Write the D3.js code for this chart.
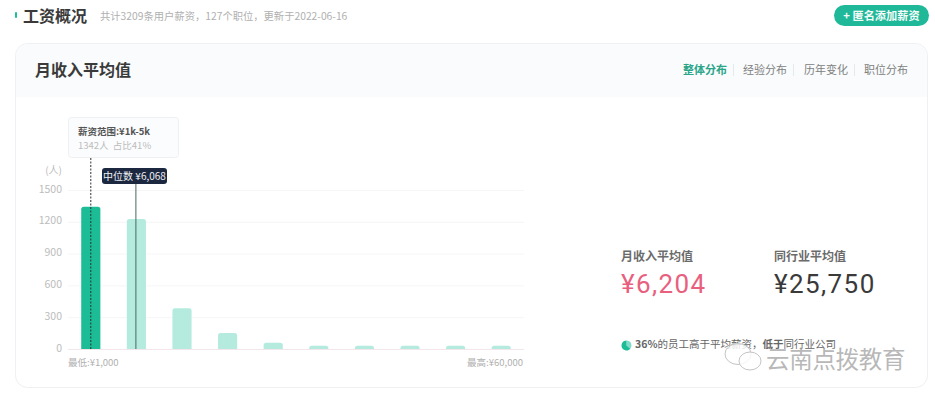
<!DOCTYPE html>
<html><head><meta charset="utf-8">
<script src="https://cdn.jsdelivr.net/npm/d3@7"></script>
<style>html,body{margin:0;padding:0;background:#fff}svg{display:block}text{font-family:"Noto Sans CJK SC","Noto Sans",sans-serif}</style>
</head><body><div id="c"></div>
<script>
const bins=["1k-5k","5k-10k","10k-15k","15k-20k","20k-25k","25k-30k","30k-35k","35k-40k","40k-50k","50k-60k"];
const counts=[1342,1226,385,150,60,30,30,30,30,30];
const yTicks=[0,300,600,900,1200,1500];
const tabs=["整体分布","经验分布","历年变化","职位分布"];
const medianBin="5k-10k";
const abovePct=[36,64];
const W=935,H=400;
const svg=d3.select("#c").append("svg").attr("width",W).attr("height",H);
const defs=svg.append("defs");
const T=(x,y,s,size,fill,weight,anchor)=>svg.append("text").attr("x",x).attr("y",y).text(s).attr("font-size",size).attr("fill",fill).attr("font-weight",weight||400).attr("text-anchor",anchor||"start");

// page header
svg.append("rect").attr("x",15).attr("y",12).attr("width",2).attr("height",6).attr("rx",1).attr("fill","#1dbd9b");
T(23,22,"工资概况",16,"#3a3a3a",700);
T(100,20,"共计3209条用户薪资，127个职位，更新于2022-06-16",10.3,"#b0b0b0");
svg.append("rect").attr("x",834).attr("y",5).attr("width",95).attr("height",21).attr("rx",10.5).attr("fill","#1fb898");
T(881.5,19.5,"+ 匿名添加薪资",11.2,"#f4fbf9",700,"middle");

// card
svg.append("rect").attr("x",15.5).attr("y",43.5).attr("width",912).attr("height",344).attr("rx",12).attr("fill","#fff").attr("stroke","#eef0f1");
defs.append("clipPath").attr("id","hd").append("rect").attr("x",16).attr("y",44).attr("width",911).attr("height",53);
svg.append("rect").attr("x",16).attr("y",44).attr("width",911).attr("height",70).attr("rx",12).attr("fill","#f9fbfc").attr("clip-path","url(#hd)");
T(35,76,"月收入平均值",16,"#3a3a3a",700);
const tabX=[683,743,804,864];
tabs.forEach((t,i)=>{
  T(tabX[i],74,t,11,i==0?"#2aa589":"#808080",i==0?700:400);
  if(i<3) svg.append("line").attr("x1",tabX[i]+50.5).attr("x2",tabX[i]+50.5).attr("y1",64).attr("y2",76).attr("stroke","#e6e9eb");
});

// chart
const x=d3.scaleBand().domain(bins).range([68,524]).paddingInner(0.58).paddingOuter(0.29);
const y=d3.scaleLinear().domain([0,1500]).range([349,190]);
const g=svg.append("g");
g.selectAll("line.g").data(yTicks).join("line").attr("class","g")
 .attr("x1",68).attr("x2",524).attr("y1",d=>y(d)+.5).attr("y2",d=>y(d)+.5)
 .attr("stroke",d=>d==0?"#f3e6ea":"#f5f6f6");
const yAxis=d3.axisLeft(y).tickValues(yTicks).tickSize(0).tickPadding(0).tickFormat(d3.format("d"));
const ya=svg.append("g").attr("transform","translate(62,0)").call(yAxis);
ya.select(".domain").remove();
ya.selectAll("text").attr("font-size",10.5).attr("fill","#bcbcbc").attr("dy","0.2em").attr("font-family","Roboto,sans-serif");
T(62,174,"(人)",10,"#bcbcbc",400,"end");

const bw=x.bandwidth();
const rr=(d)=>{const X=x(d.b),Y=y(d.v),h=y(0)-Y,r=Math.min(2.5,h);return `M${X},${y(0)}V${Y+r}Q${X},${Y} ${X+r},${Y}H${X+bw-r}Q${X+bw},${Y} ${X+bw},${Y+r}V${y(0)}Z`;};
g.selectAll("path.b").data(bins.map((b,i)=>({b,v:counts[i],i}))).join("path").attr("class","b")
 .attr("d",rr).attr("fill",d=>d.i==0?"#1cbc97":"#b5ebdf");

// hover marker
const cx0=x(bins[0])+bw/2;
svg.append("line").attr("x1",cx0).attr("x2",cx0).attr("y1",158).attr("y2",349).attr("stroke","#263238").attr("stroke-width",1).attr("stroke-dasharray","2,1.5");
svg.append("rect").attr("x",68.5).attr("y",117.5).attr("width",110).attr("height",40).attr("rx",3).attr("fill","#fbfcfd").attr("stroke","#eef0f2");
T(78,135,"薪资范围:¥1k-5k",9.5,"#555",700);
T(78,149,"1342人  占比41%",9.5,"#bcbcbc").attr("xml:space","preserve");

// median marker
const mx=x(medianBin)+bw/2-.5;
svg.append("line").attr("x1",mx).attr("x2",mx).attr("y1",183).attr("y2",349).attr("stroke","#4d6660").attr("stroke-width",1);
svg.append("rect").attr("x",102).attr("y",168).attr("width",65).attr("height",16).attr("rx",3).attr("fill","#1c2740");
T(134.5,179.5,"中位数 ¥6,068",10,"#eef1f4",400,"middle");

T(68,366,"最低:¥1,000",9.5,"#b0b0b0");
T(523,366,"最高:¥60,000",9.5,"#b0b0b0",400,"end");

// right stats
T(621,261,"月收入平均值",12,"#6b6b6b",700);
T(774,261,"同行业平均值",12,"#6b6b6b",700);
T(621,293,"¥6,204",26,"#e9607f",400).style("font-family","Roboto,sans-serif").attr("letter-spacing","1.4");
T(774,293,"¥25,750",26,"#3a3a3a",400).style("font-family","Roboto,sans-serif").attr("letter-spacing","1.4");
const pie=d3.pie().sort(null).startAngle(0).endAngle(2*Math.PI)(abovePct);
const arc=d3.arc().innerRadius(0).outerRadius(5);
svg.append("g").attr("transform","translate(626.5,345.5)").selectAll("path").data(pie).join("path")
 .attr("d",arc).attr("fill",(d,i)=>i==0?"#7fdcc8":"#1cbc97");
const st=T(635,348,"",10.5,"#666");
st.append("tspan").text("36%").attr("font-weight",700);
st.append("tspan").text("的员工高于平均薪资，");
st.append("tspan").text("低于").attr("font-weight",700);
st.append("tspan").text("同行业公司");

// watermark
const wm=svg.append("g").attr("fill","rgba(255,255,255,.8)").attr("stroke","#c4c4c4").attr("stroke-width",1);
wm.append("ellipse").attr("cx",738).attr("cy",354).attr("rx",13).attr("ry",10.5);
wm.append("ellipse").attr("cx",750).attr("cy",361).attr("rx",11).attr("ry",9);
svg.append("text").attr("x",766).attr("y",368).text("云南点拨教育").attr("font-size",23.5).attr("fill","rgba(165,165,165,.8)").attr("letter-spacing","-.3");
</script></body></html>
